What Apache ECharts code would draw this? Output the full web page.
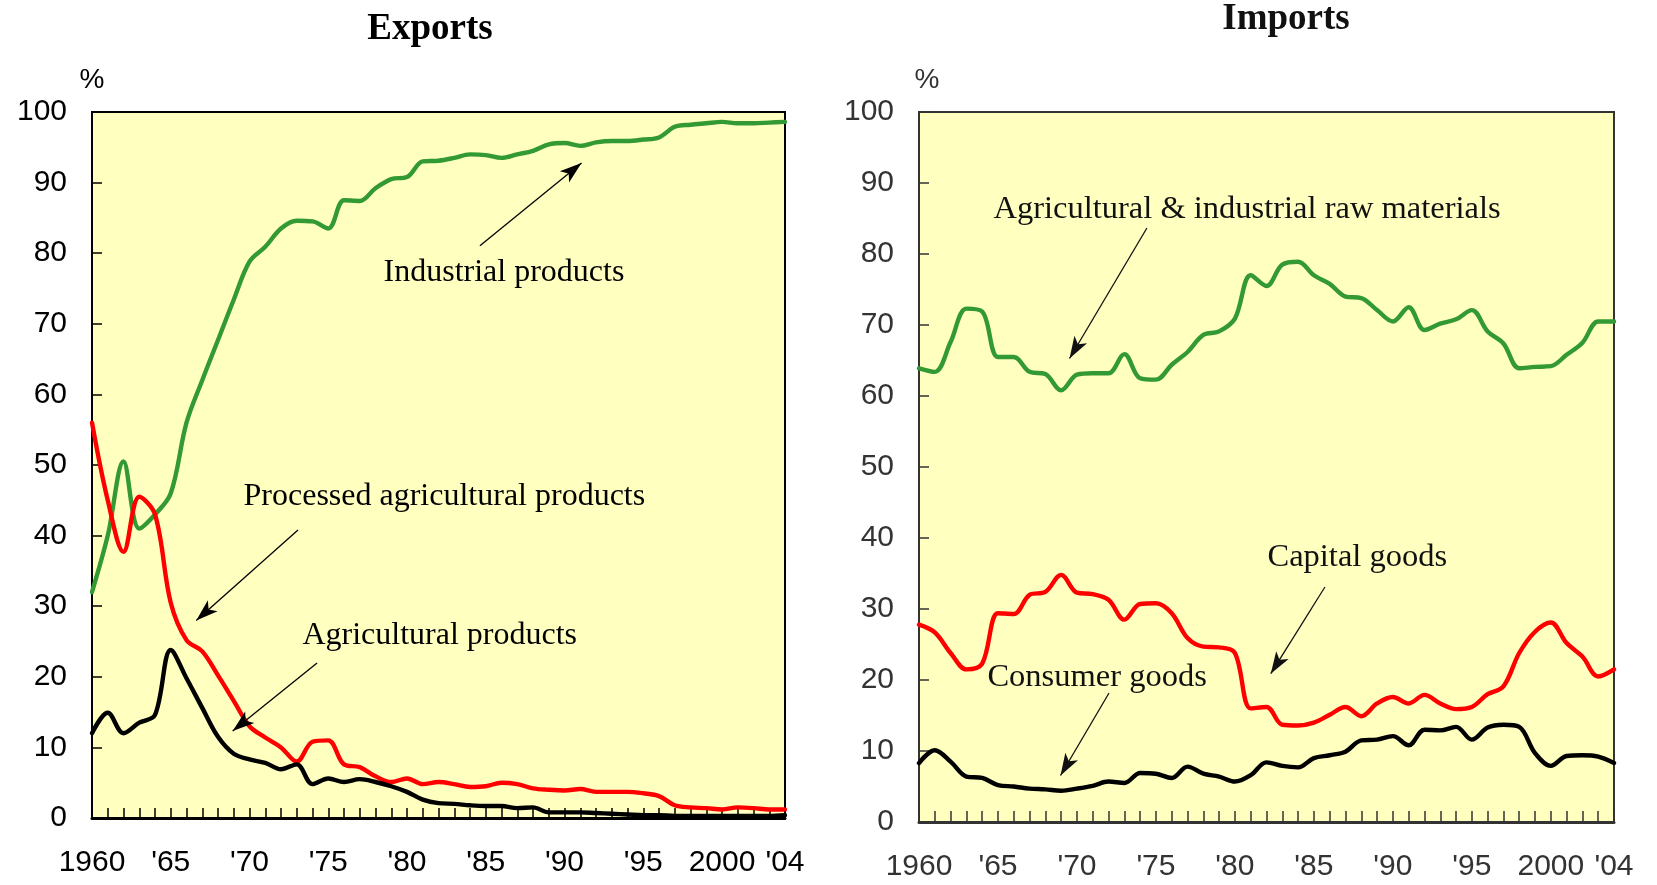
<!DOCTYPE html>
<html>
<head>
<meta charset="utf-8">
<script src="https://cdn.jsdelivr.net/npm/echarts@6/dist/echarts.min.js"></script>
<style>
html,body{margin:0;padding:0;background:#fff;}
#chart{width:1657px;height:885px;}
</style>
</head>
<body>
<div id="chart"></div>
<script>
// ---------- data ----------
const years = [1960,1961,1962,1963,1964,1965,1966,1967,1968,1969,1970,1971,1972,1973,1974,1975,1976,1977,1978,1979,
  1980,1981,1982,1983,1984,1985,1986,1987,1988,1989,1990,1991,1992,1993,1994,1995,1996,1997,1998,1999,
  2000,2001,2002,2003,2004];

const xTickYears  = [1960, 1965, 1970, 1975, 1980, 1985, 1990, 1995, 2000, 2004];
const xTickLabels = ['1960', "'65", "'70", "'75", "'80", "'85", "'90", "'95", '2000', "'04"];

// Exports (%)
const exIndustrial = [32, 40, 50.5, 41, 43, 46, 56, 62, 67.7, 73.4, 78.8, 80.9, 83.5, 84.6, 84.5, 83.5, 87.5, 87.4, 89.2, 90.5,
  90.8, 93, 93.1, 93.5, 94, 93.9, 93.5, 94, 94.5, 95.4, 95.6, 95.2, 95.7, 95.9, 95.9, 96.1, 96.4, 97.9, 98.2, 98.4,
  98.6, 98.4, 98.4, 98.5, 98.6];
const exProcessed = [56, 45, 37.7, 45.5, 43, 30.5, 25.2, 23.6, 20.2, 16.6, 13.0, 11.4, 10.0, 8.0, 10.8, 11.0, 7.6, 7.2, 5.9, 5.1,
  5.6, 4.8, 5.1, 4.8, 4.4, 4.5, 5.0, 4.8, 4.2, 4.0, 3.9, 4.1, 3.7, 3.7, 3.7, 3.5, 3.1, 1.8, 1.5, 1.4,
  1.2, 1.5, 1.4, 1.2, 1.2];
const exAgricultural = [12.0, 14.9, 12.0, 13.5, 14.6, 23.8, 19.8, 15.6, 11.5, 9.1, 8.3, 7.8, 6.9, 7.6, 4.8, 5.6, 5.1, 5.5, 5.1, 4.5,
  3.7, 2.6, 2.1, 2.0, 1.8, 1.7, 1.7, 1.4, 1.5, 0.8, 0.8, 0.8, 0.7, 0.6, 0.5, 0.4, 0.4, 0.3, 0.3, 0.3,
  0.3, 0.3, 0.3, 0.3, 0.4];

// Imports (%)
const imRawMaterials = [63.9, 63.4, 67.6, 72.3, 71.9, 65.5, 65.5, 63.4, 63.1, 60.8, 63.0, 63.2, 63.2, 65.9, 62.5, 62.3, 64.4, 66.2, 68.6, 69.1,
  70.9, 77.0, 75.5, 78.5, 78.9, 77.0, 75.8, 74.0, 73.8, 72.1, 70.5, 72.5, 69.3, 70.2, 70.8, 72.1, 69.1, 67.4, 63.9, 64.1,
  64.2, 65.8, 67.5, 70.5, 70.5];
const imCapital = [27.8, 26.7, 23.8, 21.5, 22.3, 29.4, 29.3, 32.0, 32.4, 34.8, 32.3, 32.1, 31.3, 28.5, 30.7, 30.8, 29.4, 25.9, 24.7, 24.6,
  23.8, 16.0, 16.2, 13.7, 13.6, 14.0, 15.1, 16.2, 14.9, 16.7, 17.6, 16.7, 17.9, 16.7, 15.9, 16.2, 18.0, 19.1, 23.8, 26.8,
  28.1, 25.2, 23.3, 20.5, 21.5];
const imConsumer = [8.3, 10.1, 8.5, 6.4, 6.2, 5.2, 5.0, 4.7, 4.6, 4.4, 4.7, 5.1, 5.7, 5.5, 6.9, 6.8, 6.2, 7.8, 6.8, 6.4,
  5.7, 6.6, 8.4, 7.9, 7.7, 9.0, 9.4, 9.9, 11.5, 11.6, 12.1, 10.8, 13.0, 12.9, 13.4, 11.6, 13.3, 13.7, 13.4, 9.7,
  7.9, 9.3, 9.4, 9.2, 8.3];

// Annotation texts and their anchors in data units [year, %]
const exLabelTexts  = ['Industrial products', 'Processed agricultural products', 'Agricultural products'];
const exLabelCoords = [[1978.48, 77.3], [1969.59, 45.5], [1973.33, 25.9]];
const exArrowFrom   = [[1984.63, 81.06], [1973.08, 40.79], [1974.29, 21.95]];
const exArrowTo     = [[1991.08, 92.78], [1966.62, 27.99], [1968.93, 12.31]];

const imLabelTexts  = ['Agricultural & industrial raw materials', 'Capital goods', 'Consumer goods'];
const imLabelCoords = [[1964.68, 86.3], [1982.03, 37.2], [1964.30, 20.3]];
const imArrowFrom   = [[1974.43, 83.66], [1985.70, 33.10], [1972.03, 18.17]];
const imArrowTo     = [[1969.53, 65.28], [1982.27, 20.89], [1968.96, 6.55]];

// ---------- chart ----------
const pairs = arr => years.map((y, i) => [y, arr[i]]);
const serif = "'Liberation Serif','Times New Roman',serif";
const sans = "'Liberation Sans',Arial,sans-serif";

function xAxisFor(gridIndex, color, tickLen) {
  return {
    type: 'value', gridIndex, min: 1960, max: 2004, interval: 1,
    axisLine: { show: true, onZero: false, lineStyle: { color, width: 3 } },
    axisTick: { show: true, inside: true, length: tickLen, lineStyle: { color, width: 1.5 } },
    axisLabel: {
      show: true, margin: 30, color, fontFamily: sans, fontSize: 30,
      formatter: v => { const k = xTickYears.indexOf(v); return k >= 0 ? xTickLabels[k] : ''; }
    },
    splitLine: { show: false }
  };
}
function yAxisFor(gridIndex, color, namePad) {
  return {
    type: 'value', gridIndex, min: 0, max: 100, interval: 10,
    name: '%', nameLocation: 'end', nameGap: 18,
    nameTextStyle: { color, fontFamily: sans, fontSize: 28, padding: [0, 0, 0, namePad] },
    axisLine: { show: true, lineStyle: { color, width: 2 } },
    axisTick: { show: true, inside: true, length: 10, lineStyle: { color, width: 1.5 } },
    axisLabel: { margin: 25, color, fontFamily: sans, fontSize: 30 },
    splitLine: { show: false }
  };
}
function lineSeries(idx, data, color, extra) {
  return Object.assign({
    type: 'line', xAxisIndex: idx, yAxisIndex: idx, data: pairs(data),
    showSymbol: false, symbol: 'none', smooth: 0.35,
    lineStyle: { color, width: 4.4, cap: 'round', join: 'round' },
    z: 3
  }, extra || {});
}
function markPointsFor(texts, coords, color, size) {
  return {
    silent: true, symbol: 'rect', symbolSize: 1, itemStyle: { color: 'rgba(0,0,0,0)' },
    animation: false,
    data: texts.map((t, i) => ({
      coord: coords[i],
      label: { show: true, formatter: t, position: 'right', distance: 0,
               color, fontFamily: serif, fontSize: size }
    }))
  };
}
function markArrowsFor(from, to, color) {
  return {
    silent: true, animation: false,
    symbol: ['none', 'arrow'],
    label: { show: false },
    lineStyle: { color, width: 1.3, type: 'solid' },
    emphasis: { disabled: true },
    data: from.map((f, i) => [
      { coord: f, symbol: 'none', symbolSize: 1 },
      { coord: to[i], symbol: 'arrow', symbolSize: [11, 22] }
    ])
  };
}

const chart = echarts.init(document.getElementById('chart'), null, { renderer: 'canvas' });
chart.setOption({
  animation: false,
  backgroundColor: '#ffffff',
  title: [
    { text: 'Exports', left: 425, top: 6, textAlign: 'center',
      textStyle: { fontFamily: serif, fontWeight: 'bold', fontSize: 37, color: '#000' } },
    { text: 'Imports', left: 1281, top: -4, textAlign: 'center',
      textStyle: { fontFamily: serif, fontWeight: 'bold', fontSize: 37, color: '#111' } }
  ],
  grid: [
    { left: 92, top: 112, width: 693, height: 706, show: true, backgroundColor: '#ffffc0',
      borderColor: '#000', borderWidth: 2, containLabel: false },
    { left: 919, top: 112, width: 695, height: 710, show: true, backgroundColor: '#ffffc0',
      borderColor: '#333', borderWidth: 2, containLabel: false }
  ],
  xAxis: [xAxisFor(0, '#000', 10), xAxisFor(1, '#333', 11)],
  yAxis: [yAxisFor(0, '#000', 0), yAxisFor(1, '#333', 16)],
  series: [
    lineSeries(0, exIndustrial, '#339933', {
      name: 'Industrial products',
      markPoint: markPointsFor(exLabelTexts, exLabelCoords, '#000', 32),
      markLine: markArrowsFor(exArrowFrom, exArrowTo, '#000')
    }),
    lineSeries(0, exProcessed, '#ff0000', { name: 'Processed agricultural products' }),
    lineSeries(0, exAgricultural, '#000000', { name: 'Agricultural products' }),
    lineSeries(1, imRawMaterials, '#339933', {
      name: 'Agricultural & industrial raw materials',
      markPoint: markPointsFor(imLabelTexts, imLabelCoords, '#111', 32.5),
      markLine: markArrowsFor(imArrowFrom, imArrowTo, '#111')
    }),
    lineSeries(1, imCapital, '#ff0000', { name: 'Capital goods' }),
    lineSeries(1, imConsumer, '#000000', { name: 'Consumer goods' })
  ]
});
</script>
</body>
</html>
